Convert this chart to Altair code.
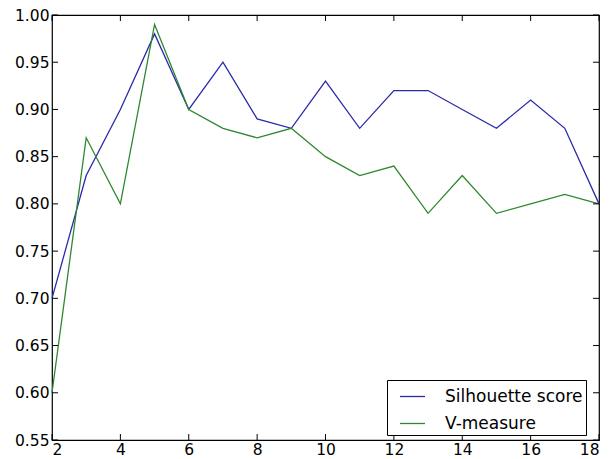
import altair as alt
import pandas as pd

# Number of clusters evaluated
clusters = list(range(2, 19))

# Clustering quality per number of clusters
silhouette = [0.70, 0.83, 0.90, 0.98, 0.90, 0.95, 0.89, 0.88, 0.93,
              0.88, 0.92, 0.92, 0.90, 0.88, 0.91, 0.88, 0.80]
v_measure = [0.60, 0.87, 0.80, 0.99, 0.90, 0.88, 0.87, 0.88, 0.85,
             0.83, 0.84, 0.79, 0.83, 0.79, 0.80, 0.81, 0.80]

series_names = ["Silhouette score", "V-measure"]
series_colors = ["#2a2aa8", "#2e882e"]

x_ticks = [2, 4, 6, 8, 10, 12, 14, 16, 18]
y_ticks = [0.55, 0.60, 0.65, 0.70, 0.75, 0.80, 0.85, 0.90, 0.95, 1.00]

W, H = 547, 425
TICK = 6

df = pd.DataFrame({
    "k": clusters * 2,
    "score": silhouette + v_measure,
    "series": [series_names[0]] * len(clusters) + [series_names[1]] * len(clusters),
})
xt = pd.DataFrame({"k": x_ticks})
yt = pd.DataFrame({"score": y_ticks})

x_scale = alt.Scale(domain=[2, 18], nice=False, zero=False)
y_scale = alt.Scale(domain=[0.55, 1.0], nice=False, zero=False)

lines = alt.Chart(df).mark_line(strokeWidth=1.3).encode(
    x=alt.X("k:Q", scale=x_scale,
            axis=alt.Axis(values=x_ticks, format="d", title=None, labelPadding=2)),
    y=alt.Y("score:Q", scale=y_scale,
            axis=alt.Axis(values=y_ticks, format=".2f", title=None, labelPadding=3)),
    color=alt.Color("series:N",
                    scale=alt.Scale(domain=series_names, range=series_colors),
                    legend=alt.Legend(title=None, orient="none",
                                      legendX=335, legendY=365)),
)

tick_style = dict(color="black", strokeWidth=1)

x_bottom = alt.Chart(xt).mark_rule(**tick_style).encode(
    x="k:Q", y=alt.value(H), y2=alt.value(H - TICK))
x_top = alt.Chart(xt).mark_rule(**tick_style).encode(
    x="k:Q", y=alt.value(0), y2=alt.value(TICK))
y_left = alt.Chart(yt).mark_rule(**tick_style).encode(
    y="score:Q", x=alt.value(0), x2=alt.value(TICK))
y_right = alt.Chart(yt).mark_rule(**tick_style).encode(
    y="score:Q", x=alt.value(W - TICK), x2=alt.value(W))

chart = alt.layer(lines, x_bottom, x_top, y_left, y_right).properties(
    width=W, height=H,
    autosize=alt.AutoSizeParams(type="none"),
    padding={"left": 52, "top": 15, "right": 616 - 52 - W, "bottom": 459 - 15 - H},
    background="white",
).configure_view(
    stroke="black", strokeWidth=1.2
).configure_axis(
    grid=False, domain=False, tickSize=0,
    labelFont="DejaVu Sans", labelFontSize=15.5, labelColor="black",
).configure_legend(
    strokeColor="black", fillColor="white", padding=3, cornerRadius=0,
    symbolType="stroke", symbolSize=625, symbolStrokeWidth=1.3,
    symbolOffset=9, labelOffset=19, rowPadding=5,
    labelFont="DejaVu Sans", labelFontSize=17, labelColor="black",
)

chart.save("out.html", embed_options={"renderer": "svg", "actions": False})
